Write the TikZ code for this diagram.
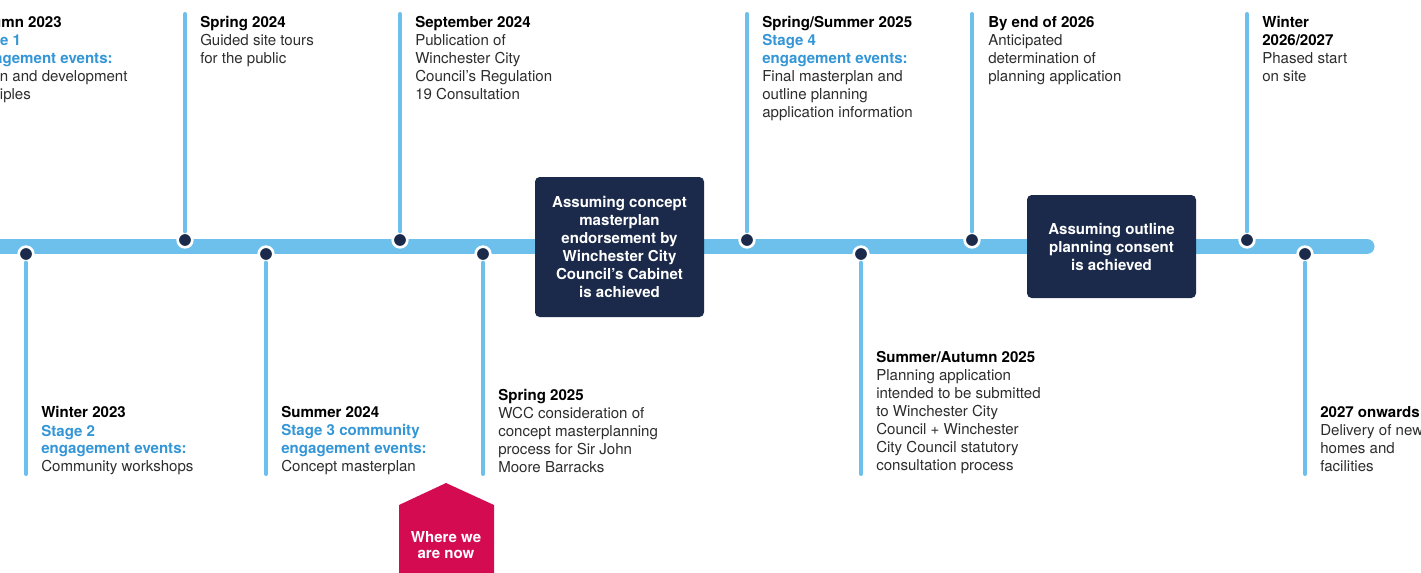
\documentclass[tikz,border=0pt]{standalone}
\usepackage{fontspec}
\setmainfont{TeX Gyre Heros}
\usetikzlibrary{calc}
\usetikzlibrary{positioning}
\definecolor{barblue}{RGB}{108,192,235}
\definecolor{navy}{RGB}{27,42,74}
\definecolor{stageblue}{RGB}{52,150,214}
\definecolor{nowpink}{RGB}{213,11,82}
\definecolor{bodygray}{RGB}{45,45,45}
\tikzset{
    dotnode/.style={
        circle,          % 圆点
        fill=navy,       % 深蓝填充
        draw=white,      % 白色外圈
        line width=2pt,
        inner sep=0,
        minimum size=11pt
    },
    stem/.style={barblue, line width=3pt, line cap=round},
    evtext/.style={
        anchor=north west,
        inner sep=0,
        align=left,
        text=bodygray,
        font=\fontsize{11.3}{13.5}\selectfont
    },
    darkbox/.style={
        fill=navy,
        rounded corners=3.5pt,
        text=white,
        align=center,
        inner sep=0,
        font=\fontsize{11.3}{13.5}\selectfont\bfseries
    }
}

\begin{document}
\begin{tikzpicture}[x=0.75pt, y=-0.75pt]

\def\barY{246.5}
\def\upY{240}
\def\loY{254}
\def\stemTop{14}
\def\stemBot{474}
\def\topT{16.5}
\def\ttl#1{\textcolor{black}{\textbf{#1}}}
\def\stg#1{\textcolor{stageblue}{\textbf{#1}}}

\useasboundingbox (0,0) rectangle (1421,572);
\clip (0,0) rectangle (1421,572);

% 时间轴
\coordinate (B0) at (-20,\barY);
\coordinate (B1) at (1367,\barY);
\draw[barblue, line width=11.25pt, line cap=round] (B0) -- (B1);

% 上方的点
\coordinate (U1) at (185,\upY);
\coordinate (U2) at (400,\upY);
\coordinate (U3) at (747,\upY);
\coordinate (U4) at (972,\upY);
\coordinate (U5) at (1247,\upY);
\coordinate (U1t) at (185,\stemTop);
\coordinate (U2t) at (400,\stemTop);
\coordinate (U3t) at (747,\stemTop);
\coordinate (U4t) at (972,\stemTop);
\coordinate (U5t) at (1247,\stemTop);

% 下方的点
\coordinate (L1) at (26,\loY);
\coordinate (L2) at (266,\loY);
\coordinate (L3) at (483,\loY);
\coordinate (L4) at (861,\loY);
\coordinate (L5) at (1305,\loY);
\coordinate (L1b) at (26,\stemBot);
\coordinate (L2b) at (266,\stemBot);
\coordinate (L3b) at (483,\stemBot);
\coordinate (L4b) at (861,\stemBot);
\coordinate (L5b) at (1305,\stemBot);

\node[dotnode] (u1) at (U1) {};
\node[dotnode] (u2) at (U2) {};
\node[dotnode] (u3) at (U3) {};
\node[dotnode] (u4) at (U4) {};
\node[dotnode] (u5) at (U5) {};
\node[dotnode] (l1) at (L1) {};
\node[dotnode] (l2) at (L2) {};
\node[dotnode] (l3) at (L3) {};
\node[dotnode] (l4) at (L4) {};
\node[dotnode] (l5) at (L5) {};

\draw[stem] (u1) -- (U1t);
\draw[stem] (u2) -- (U2t);
\draw[stem] (u3) -- (U3t);
\draw[stem] (u4) -- (U4t);
\draw[stem] (u5) -- (U5t);
\draw[stem] (l1) -- (L1b);
\draw[stem] (l2) -- (L2b);
\draw[stem] (l3) -- (L3b);
\draw[stem] (l4) -- (L4b);
\draw[stem] (l5) -- (L5b);

% 上方文字
\node[evtext] (t0) at (-33,\topT) {\ttl{Autumn 2023}\\\stg{Stage 1}\\\stg{engagement events:}\\Vision and development\\principles};
\node[evtext] (t1) at (200,\topT) {\ttl{Spring 2024}\\Guided site tours\\for the public};
\node[evtext] (t2) at (415,\topT) {\ttl{September 2024}\\Publication of\\Winchester City\\Council’s Regulation\\19 Consultation};
\node[evtext] (t3) at (762,\topT) {\ttl{Spring/Summer 2025}\\\stg{Stage 4}\\\stg{engagement events:}\\Final masterplan and\\outline planning\\application information};
\node[evtext] (t4) at (988,\topT) {\ttl{By end of 2026}\\Anticipated\\determination of\\planning application};
\node[evtext] (t5) at (1262,\topT) {\ttl{Winter}\\\ttl{2026/2027}\\Phased start\\on site};

% 下方文字
\node[evtext] (b1) at (41,406.5) {\ttl{Winter 2023}\\\stg{Stage 2}\\\stg{engagement events:}\\Community workshops};
\node[evtext] (b2) at (281,406.5) {\ttl{Summer 2024}\\\stg{Stage 3 community}\\\stg{engagement events:}\\Concept masterplan};
\node[evtext] (b3) at (498,388.5) {\ttl{Spring 2025}\\WCC consideration of\\concept masterplanning\\process for Sir John\\Moore Barracks};
\node[evtext] (b4) at (876,351.5) {\ttl{Summer/Autumn 2025}\\Planning application\\intended to be submitted\\to Winchester City\\Council + Winchester\\City Council statutory\\consultation process};
\node[evtext] (b5) at (1320,406.5) {\ttl{2027 onwards}\\Delivery of new\\homes and\\facilities};

% 深色方框
\node[darkbox, minimum width=126.75pt, minimum height=105pt] (c1) at (619.5,247)
    {Assuming concept\\masterplan\\endorsement by\\Winchester City\\Council’s Cabinet\\is achieved};
\node[darkbox, minimum width=126.75pt, minimum height=77.25pt] (c2) at (1111.5,246.5)
    {Assuming outline\\planning consent\\is achieved};

% 当前位置
\coordinate (H1) at (446,483);
\coordinate (H2) at (494,505);
\coordinate (H3) at (494,585);
\coordinate (H4) at (399,585);
\coordinate (H5) at (399,505);
\fill[nowpink] (H1) -- (H2) -- (H3) -- (H4) -- (H5) -- cycle;
\node[align=center, text=white, inner sep=0,
      font=\fontsize{11.3}{12}\selectfont\bfseries] (now) at (446,545) {Where we\\are now};

\end{tikzpicture}
\end{document}
